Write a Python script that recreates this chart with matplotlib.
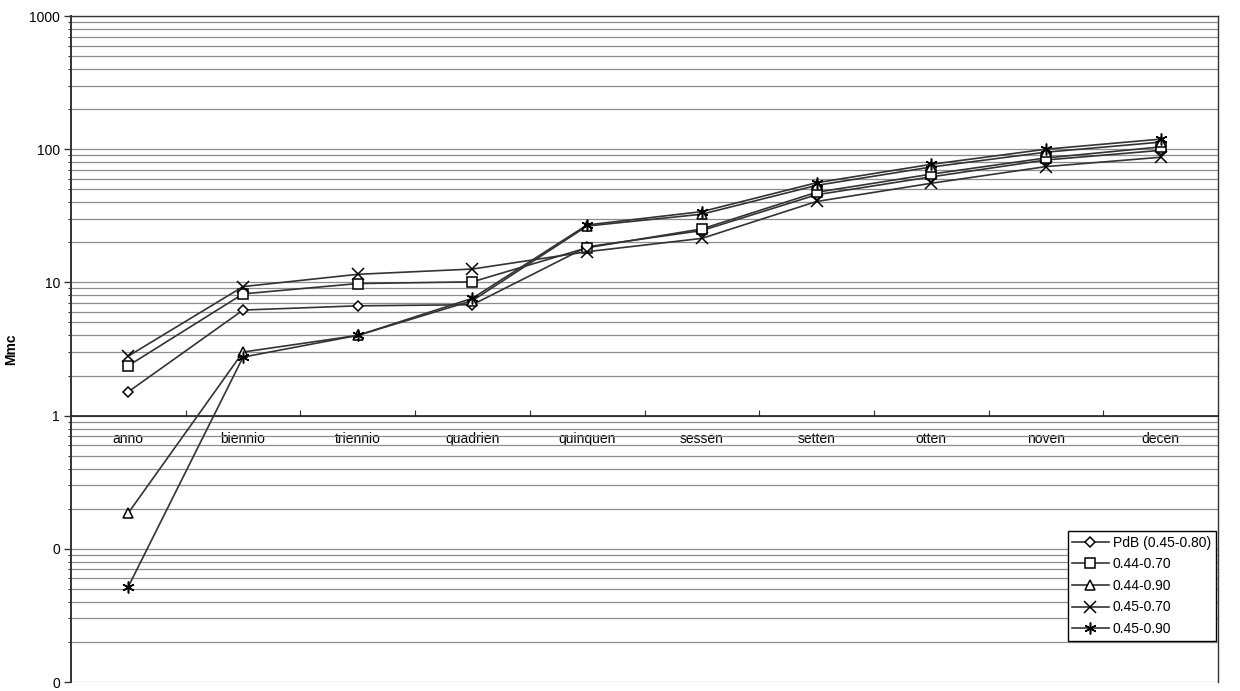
import numpy as np
import matplotlib
matplotlib.use('Agg')
import matplotlib.pyplot as plt
from matplotlib.ticker import FixedLocator, FixedFormatter, NullFormatter

plt.rcParams['font.family'] = ['Liberation Sans', 'DejaVu Sans']
plt.rcParams['font.size'] = 10

# dati
categorie = ['anno', 'biennio', 'triennio', 'quadrien', 'quinquen',
             'sessen', 'setten', 'otten', 'noven', 'decen']
pdb = [1.51, 6.2, 6.67, 6.8, 18.5, 24.5, 45.5, 62, 83, 98]
s_044_070 = [2.37, 8.2, 9.8, 10.1, 18.2, 25.2, 47.5, 65, 86, 104]
s_044_090 = [0.186, 3.0, 4.0, 7.3, 26.5, 32.5, 53.5, 73.5, 95, 113]
s_045_070 = [2.8, 9.3, 11.5, 12.6, 17.0, 21.4, 40.5, 55.5, 74, 87]
s_045_090 = [0.052, 2.75, 4.0, 7.6, 27.0, 34.0, 56.0, 77.0, 100, 119]

nomi = ['PdB (0.45-0.80)', '0.44-0.70', '0.44-0.90', '0.45-0.70', '0.45-0.90']
serie = [pdb, s_044_070, s_044_090, s_045_070, s_045_090]
marker = ['D', 's', '^', 'x', (6, 2, 0)]
msize = [5.5, 7.5, 7.5, 8.5, 8.5]

y_tick = [0.01, 0.1, 1, 10, 100, 1000]
y_lab = ['0', '0', '1', '10', '100', '1000']

fig = plt.figure(figsize=(12.4, 6.91), dpi=100)
ax = fig.add_axes([71/1240, 9/691, 1147/1240, 666/691])
x = np.arange(len(categorie))

for vals, nome, m, ms in zip(serie, nomi, marker, msize):
    ax.plot(x, vals, color='#333333', lw=1.2, marker=m, markersize=ms,
            markerfacecolor='white', markeredgecolor='black', markeredgewidth=1.1,
            label=nome, zorder=3)

ax.set_yscale('log')
ax.set_ylim(0.01, 1000)
ax.set_xlim(-0.5, len(categorie) - 0.5)
ax.yaxis.set_major_locator(FixedLocator(y_tick))
ax.yaxis.set_major_formatter(FixedFormatter(y_lab))
minori = [m * 10.0**e for e in range(-2, 3) for m in range(2, 10)]
ax.yaxis.set_minor_locator(FixedLocator(minori))
ax.yaxis.set_minor_formatter(NullFormatter())
ax.grid(True, which='both', axis='y', color='#8c8c8c', lw=0.9)
ax.tick_params(axis='y', which='major', length=5, width=1, color='#333333', pad=3)
ax.tick_params(axis='y', which='minor', length=2, width=0.8, color='#333333')

# asse x che incrocia a 1
ax.spines['bottom'].set_position(('data', 1))
ax.spines['bottom'].set_color('#222222')
ax.spines['bottom'].set_linewidth(1.2)
ax.set_xticks(x)
ax.set_xticklabels(categorie)
ax.set_xticks(np.arange(len(categorie) + 1) - 0.5, minor=True)
ax.tick_params(axis='x', which='major', length=0, pad=12)
ax.tick_params(axis='x', which='minor', direction='in', length=4, width=0.8, color='#333333')

for s in ['left', 'top', 'right']:
    ax.spines[s].set_color('#333333')
    ax.spines[s].set_linewidth(1.0)
ax.spines['left'].set_linewidth(1.4)

ax.set_ylabel('Mmc', fontweight='bold')
ax.yaxis.set_label_coords(-0.046, 0.5)

leg = ax.legend(loc='lower right', bbox_to_anchor=(0.998, 0.0616), borderaxespad=0,
                fancybox=False, edgecolor='black', framealpha=1, handlelength=2.6,
                labelspacing=0.55, handletextpad=0.3, borderpad=0.35)
leg.get_frame().set_linewidth(1.0)

fig.savefig('out.png', dpi=100)
